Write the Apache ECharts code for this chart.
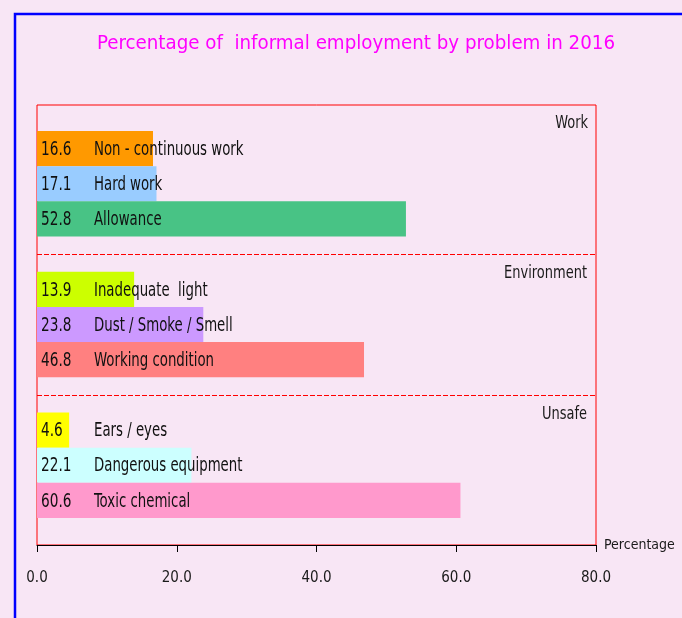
<!DOCTYPE html>
<html>
<head>
<meta charset="utf-8">
<script src="https://cdn.jsdelivr.net/npm/echarts@6/dist/echarts.min.js"></script>
<style>
html,body{margin:0;padding:0;background:#F8E6F5;}
#chart{width:682px;height:618px;}
</style>
</head>
<body>
<div id="chart"></div>
<script>
// ---- data ----
var titleText = 'Percentage of  informal employment by problem in 2016';
var groups = ['Work', 'Environment', 'Unsafe'];
var categories = [
  'Non - continuous work', 'Hard work', 'Allowance',
  'Inadequate  light', 'Dust / Smoke / Smell', 'Working condition',
  'Ears / eyes', 'Dangerous equipment', 'Toxic chemical'
];
var values = [16.6, 17.1, 52.8, 13.9, 23.8, 46.8, 4.6, 22.1, 60.6];
var barColors = ['#FF9900', '#99CCFF', '#48C385', '#CCFF00', '#CC99FF', '#FF8080', '#FFFF00', '#CCFFFF', '#FF99CC'];
var xTicks = [0, 20, 40, 60, 80];
var axisName = 'Percentage';

var FONT = '"DejaVu Sans Condensed", "DejaVu Sans", sans-serif';

// build category list with gap slots between groups
var yCats = [], barData = [], labelData = [], gapIdx = [];
for (var g = 0; g < groups.length; g++) {
  if (g > 0) {
    gapIdx.push(yCats.length);
    yCats.push('gap' + g);
    barData.push({value: null});
  }
  for (var k = 0; k < 3; k++) {
    var i = g * 3 + k;
    labelData.push([values[i], yCats.length, i]);
    yCats.push(categories[i]);
    barData.push({value: values[i], name: categories[i], itemStyle: {color: barColors[i]}});
  }
}

var chart = echarts.init(document.getElementById('chart'));
var L = 37, R = 86, T = 105, B = 73;
function groupText(txt, x, y) {
  return {type: 'text', x: x, y: y, scaleX: 0.85, silent: true,
    style: {text: txt, fill: '#1a1a1a', font: '17px ' + FONT, align: 'right', verticalAlign: 'middle'}};
}
chart.setOption({
  backgroundColor: '#F8E6F5',
  animation: false,
  title: {
    text: titleText, left: 351, top: 29, textAlign: 'center',
    textStyle: {color: '#FF00FF', fontSize: 20.3, fontWeight: 'normal', fontFamily: FONT}
  },
  graphic: [
    {type: 'rect', shape: {x: 15, y: 14, width: 900, height: 900}, style: {fill: 'none', stroke: '#0000FF', lineWidth: 2.5}, silent: true},
    groupText(groups[0], 588, 124),
    groupText(groups[1], 587, 274),
    groupText(groups[2], 587, 415)
  ],
  grid: [
    {left: L, right: R, top: T, bottom: B, show: true, borderColor: '#FF0000', borderWidth: 1, backgroundColor: 'transparent'},
    {left: L, right: R, top: 131, bottom: 100}
  ],
  xAxis: [
    {
      gridIndex: 0, type: 'value', min: xTicks[0], max: xTicks[xTicks.length - 1], interval: 20,
      axisLine: {show: true, lineStyle: {color: '#000', width: 1}},
      axisTick: {show: true, length: 7, lineStyle: {color: '#000'}},
      axisLabel: {margin: 26, color: '#1a1a1a', fontSize: 15, fontFamily: FONT, formatter: function (v) { return v.toFixed(1); }},
      splitLine: {show: false},
      name: axisName, nameLocation: 'end', nameGap: 8,
      nameTextStyle: {color: '#1a1a1a', fontSize: 14, fontFamily: FONT}
    },
    {gridIndex: 1, type: 'value', min: 0, max: 80, show: false}
  ],
  yAxis: [
    {gridIndex: 0, type: 'value', show: false, min: 0, max: 1},
    {gridIndex: 1, type: 'category', data: yCats, inverse: true, show: false}
  ],
  series: [{
    type: 'bar', xAxisIndex: 1, yAxisIndex: 1, z: 2,
    data: barData, barCategoryGap: 0,
    label: {show: false},
    markLine: {
      silent: true, symbol: 'none',
      label: {show: false},
      lineStyle: {color: '#FF0000', type: [5, 2], width: 1.2},
      data: gapIdx.map(function (ix) { return {yAxis: ix}; })
    }
  }, {
    type: 'custom', xAxisIndex: 1, yAxisIndex: 1, silent: true, z: 10,
    data: labelData,
    encode: {x: 0, y: 1},
    renderItem: function (params, api) {
      var idx = api.value(1);
      var p = api.coord([0, idx]);
      var it = labelData[params.dataIndex][2];
      var st = {fill: '#111', font: '20px ' + FONT, verticalAlign: 'middle', align: 'left'};
      return {type: 'group', children: [
        {type: 'text', x: p[0] + 4, y: p[1] + 1, scaleX: 0.76,
          style: Object.assign({text: values[it].toFixed(1)}, st)},
        {type: 'text', x: p[0] + 57, y: p[1] + 1, scaleX: 0.74,
          style: Object.assign({text: categories[it]}, st)}
      ]};
    }
  }]
});
</script>
</body>
</html>
